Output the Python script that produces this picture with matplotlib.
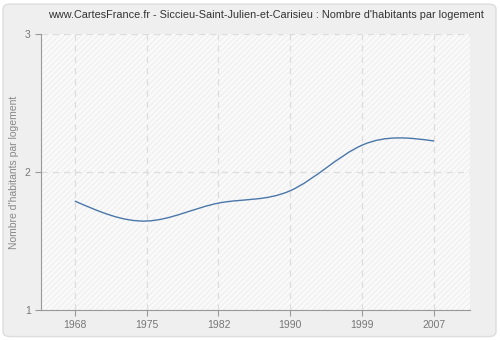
import numpy as np
import matplotlib.pyplot as plt
from matplotlib.path import Path
from matplotlib.patches import PathPatch, FancyBboxPatch, Rectangle

years = ["1968", "1975", "1982", "1990", "1999", "2007"]
habitants = [1.79, 1.645, 1.775, 1.865, 2.195, 2.225]

title = "www.CartesFrance.fr - Siccieu-Saint-Julien-et-Carisieu : Nombre d'habitants par logement"
ylabel = "Nombre d'habitants par logement"

plt.rcParams["font.family"] = ["Liberation Sans", "DejaVu Sans"]


def smooth_path(ys):
    # natural cubic spline on unit spacing, written as Bezier segments
    y = np.asarray(ys, dtype=float)
    n = len(y)
    A = np.zeros((n, n))
    b = np.zeros(n)
    A[0, 0], A[0, 1], b[0] = 2, 1, 3 * (y[1] - y[0])
    A[-1, -2], A[-1, -1], b[-1] = 1, 2, 3 * (y[-1] - y[-2])
    for i in range(1, n - 1):
        A[i, i - 1], A[i, i], A[i, i + 1] = 1, 4, 1
        b[i] = 3 * (y[i + 1] - y[i - 1])
    d = np.linalg.solve(A, b)
    verts = [(0, y[0])]
    codes = [Path.MOVETO]
    for i in range(n - 1):
        verts += [(i + 1 / 3, y[i] + d[i] / 3),
                  (i + 2 / 3, y[i + 1] - d[i + 1] / 3),
                  (i + 1, y[i + 1])]
        codes += [Path.CURVE4] * 3
    return Path(verts, codes)


def main():
    fig = plt.figure(figsize=(5, 3.4), dpi=100)
    fig.patch.set_facecolor("white")
    frame = FancyBboxPatch((0.006, 0.01), 0.986, 0.978,
                           boxstyle="round,pad=0,rounding_size=0.015",
                           transform=fig.transFigure,
                           facecolor="#efefef", edgecolor="#dddddd",
                           linewidth=1, zorder=-5)
    fig.patches.append(frame)

    ax = fig.add_axes([0.082, 0.088, 0.858, 0.812])
    ax.set_facecolor("#fafafa")
    ax.add_patch(Rectangle((0, 0), 1, 1, transform=ax.transAxes, facecolor="none",
                           edgecolor="#f0f0f0", hatch="//////", linewidth=0, zorder=0))

    x = np.arange(len(years))
    ax.add_patch(PathPatch(smooth_path(habitants), fill=False,
                           edgecolor="#4a77aa", linewidth=1, zorder=3))

    ax.set_xlim(-0.47, 5.5)
    ax.set_ylim(1, 3)
    ax.set_xticks(x)
    ax.set_xticklabels(years)
    ax.set_yticks([1, 2, 3])

    ax.grid(True, color="#dddddd", linestyle=(0, (5, 4)), linewidth=0.9)
    ax.set_axisbelow(True)
    for side in ["top", "right"]:
        ax.spines[side].set_visible(False)
    for side in ["left", "bottom"]:
        ax.spines[side].set_color("#999999")
    ax.tick_params(colors="#999999", labelcolor="#777777", labelsize=7.5, length=4)

    ax.set_ylabel(ylabel, fontsize=7.5, color="#888888")
    fig.text(0.532, 0.955, title, ha="center", va="center", fontsize=7.8, color="#333333")

    plt.savefig("out.png", dpi=100, facecolor=fig.get_facecolor())


if __name__ == "__main__":
    main()
